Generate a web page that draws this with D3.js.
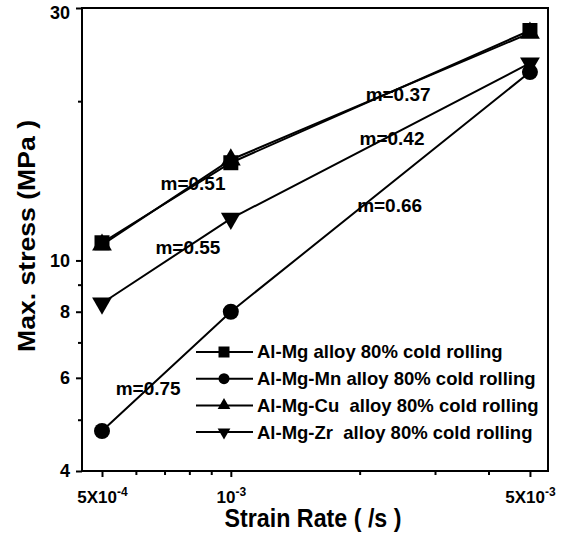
<!DOCTYPE html>
<html>
<head>
<meta charset="utf-8">
<script src="https://cdn.jsdelivr.net/npm/d3@7"></script>
<style>
  body { margin: 0; background: #fff; }
  svg { display: block; font-family: "Liberation Sans", Arial, sans-serif; font-weight: bold; }
</style>
</head>
<body>
<div id="chart"></div>
<script>
// strain rates (1/s)
const strainRates = [5e-4, 1e-3, 5e-3];

// max stress (MPa) per alloy
const alMg = [10.8, 15.3, 27.2];
const alMgMn = [4.76, 8.0, 22.7];
const alMgCu = [10.7, 15.5, 26.9];
const alMgZr = [8.3, 12.0, 23.6];

const seriesNames = [
  "Al-Mg alloy 80% cold rolling",
  "Al-Mg-Mn alloy 80% cold rolling",
  "Al-Mg-Cu  alloy 80% cold rolling",
  "Al-Mg-Zr  alloy 80% cold rolling"
];

// tick values
const yMajorTicks = [4, 6, 8, 10, 30];
const yMinorTicks = [5, 7, 9, 20];
const xMajorTicks = [5e-4, 1e-3, 5e-3];
const xTickBase = ["5X10", "10", "5X10"];
const xTickExp = ["-4", "-3", "-3"];
const xMinorTicks = [6e-4, 7e-4, 8e-4, 9e-4, 2e-3, 3e-3, 4e-3];

// slope labels, anchored in data units (strain rate, stress)
const slopeText = ["m=0.37", "m=0.42", "m=0.51", "m=0.55", "m=0.66", "m=0.75"];
const slopeRate = [2.46e-3, 2.38e-3, 8.16e-4, 7.94e-4, 2.35e-3, 6.41e-4];
const slopeStress = [20.6, 17.0, 14.0, 10.6, 12.7, 5.74];

const W = 573, H = 539;
const plot = { left: 82, right: 548, top: 8, bottom: 471 };

const svg = d3.select("#chart")
  .append("svg")
  .attr("width", W)
  .attr("height", H);

svg.append("rect").attr("width", W).attr("height", H).attr("fill", "#fff");

const x = d3.scaleLog()
  .domain([4.49e-4, 5.51e-3])
  .range([plot.left, plot.right]);

const y = d3.scaleLog()
  .domain([4, 30])
  .range([plot.bottom, plot.top]);

// y axis: labelled major ticks + small minor ticks
const yAxis = svg.append("g")
  .attr("transform", `translate(${plot.left},0)`)
  .call(d3.axisLeft(y).tickValues(yMajorTicks).tickFormat(d3.format("d")).tickSize(6).tickPadding(6));
yAxis.selectAll("text")
  .attr("font-size", "18px")
  .attr("font-weight", "bold")
  .attr("font-family", "Liberation Sans, Arial, sans-serif")
  .attr("fill", "#000");
// top label sits a little lower so it stays inside the page
yAxis.selectAll("text").filter((d) => d === 30).attr("dy", "0.6em");

svg.append("g")
  .attr("transform", `translate(${plot.left},0)`)
  .call(d3.axisLeft(y).tickValues(yMinorTicks).tickFormat("").tickSize(4));

// x axis
const xAxis = svg.append("g")
  .attr("transform", `translate(0,${plot.bottom})`)
  .call(d3.axisBottom(x).tickValues(xMajorTicks).tickFormat("").tickSize(6).tickPadding(14));

xAxis.selectAll(".tick").append("text")
  .attr("y", 32)
  .attr("text-anchor", "middle")
  .attr("fill", "#000")
  .attr("font-size", "17px")
  .each(function (d, i) {
    const t = d3.select(this);
    t.append("tspan").text(xTickBase[i]);
    t.append("tspan").attr("font-size", "12px").attr("dy", -7).text(xTickExp[i]);
  });

svg.append("g")
  .attr("transform", `translate(0,${plot.bottom})`)
  .call(d3.axisBottom(x).tickValues(xMinorTicks).tickFormat("").tickSize(4));

svg.selectAll(".domain").remove();
svg.selectAll(".tick line").attr("stroke", "#000").attr("stroke-width", 2);

// frame
svg.append("rect")
  .attr("x", plot.left)
  .attr("y", plot.top)
  .attr("width", plot.right - plot.left)
  .attr("height", plot.bottom - plot.top)
  .attr("fill", "none")
  .attr("stroke", "#000")
  .attr("stroke-width", 2);

// axis titles
svg.append("text")
  .attr("x", 313)
  .attr("y", 527)
  .attr("text-anchor", "middle")
  .attr("font-size", "25px")
  .attr("textLength", 177)
  .attr("lengthAdjust", "spacingAndGlyphs")
  .text("Strain Rate ( /s )");

svg.append("text")
  .attr("transform", "translate(35,236) rotate(-90)")
  .attr("text-anchor", "middle")
  .attr("font-size", "24px")
  .attr("textLength", 232)
  .attr("lengthAdjust", "spacingAndGlyphs")
  .text("Max. stress (MPa )");

// series
const down = {
  draw: (ctx, size) => {
    const h = -Math.sqrt(size / (Math.sqrt(3) * 3));
    ctx.moveTo(0, -h * 2);
    ctx.lineTo(-Math.sqrt(3) * h, h);
    ctx.lineTo(Math.sqrt(3) * h, h);
    ctx.closePath();
  }
};
const series = [
  { values: alMg, symbol: d3.symbolSquare, size: 225, legSize: 121 },
  { values: alMgMn, symbol: d3.symbolCircle, size: 201, legSize: 95 },
  { values: alMgCu, symbol: d3.symbolTriangle, size: 170, legSize: 70 },
  { values: alMgZr, symbol: down, size: 170, legSize: 70 }
];

const line = d3.line()
  .x((d, i) => x(strainRates[i]))
  .y((d) => y(d));

series.forEach((s) => {
  svg.append("path")
    .attr("d", line(s.values))
    .attr("fill", "none")
    .attr("stroke", "#000")
    .attr("stroke-width", 2);
});

series.forEach((s) => {
  svg.selectAll(null)
    .data(s.values)
    .enter()
    .append("path")
    .attr("transform", (d, i) => `translate(${x(strainRates[i])},${y(d)})`)
    .attr("d", d3.symbol().type(s.symbol).size(s.size))
    .attr("fill", "#000");
});

// slope labels
svg.selectAll(".slope")
  .data(slopeText)
  .enter()
  .append("text")
  .attr("class", "slope")
  .attr("x", (d, i) => x(slopeRate[i]))
  .attr("y", (d, i) => y(slopeStress[i]))
  .attr("dy", "0.35em")
  .attr("text-anchor", "middle")
  .attr("font-size", "19px")
  .text((d) => d);

// legend
const legend = svg.append("g").attr("transform", "translate(196,352)");
const rowH = 26.7;
series.forEach((s, i) => {
  const g = legend.append("g").attr("transform", `translate(0,${i * rowH})`);
  g.append("line").attr("x1", 0).attr("x2", 57).attr("stroke", "#000").attr("stroke-width", 2);
  g.append("path")
    .attr("transform", "translate(28,0)")
    .attr("d", d3.symbol().type(s.symbol).size(s.legSize))
    .attr("fill", "#000");
  g.append("text")
    .attr("x", 61)
    .attr("dy", "0.35em")
    .attr("font-size", "18.5px")
    .style("white-space", "pre")
    .text(seriesNames[i]);
});
</script>
</body>
</html>
